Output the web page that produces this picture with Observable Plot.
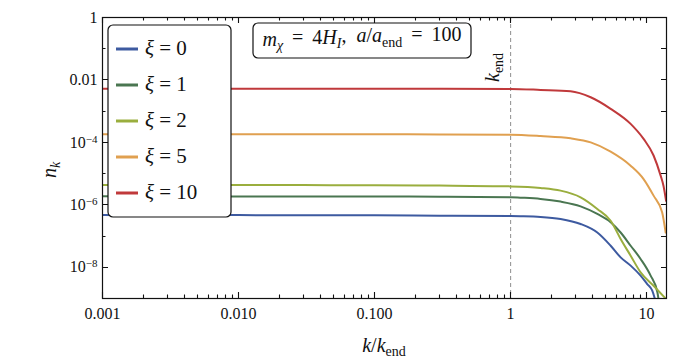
<!DOCTYPE html>
<html><head><meta charset="utf-8">
<script src="https://cdn.jsdelivr.net/npm/d3@7"></script>
<script src="https://cdn.jsdelivr.net/npm/@observablehq/plot@0.6"></script>
<style>
body{margin:0;background:#fff}
#chart svg text, #chart svg tspan { font-family: "Liberation Serif", serif !important; }
#chart svg path.inticks { stroke: #111 !important; stroke-width: 1.1px !important; fill: none; }
</style>
</head><body><div id="chart"></div>
<script>
// ---- data ----
const xiLabels = ["0", "1", "2", "5", "10"];
const colors = ["#3d5aa0", "#4a7651", "#9aae3e", "#e0a050", "#c0393b"];

const k_xi0 = [0.001, 0.003, 0.01, 0.03, 0.1, 0.3, 1, 1.18, 1.66, 2.33, 3.27, 4.34, 5.44, 6.44, 7.63, 9.03, 10.1, 11.0, 11.65];
const n_xi0 = [4.7e-7, 4.65e-7, 4.7e-7, 4.6e-7, 4.6e-7, 4.5e-7, 4.35e-7, 4.3e-7, 4.1e-7, 3.53e-7, 2.44e-7, 1.3e-7, 4.9e-8, 2.08e-8, 1.13e-8, 5.4e-9, 2.9e-9, 1.78e-9, 8e-10];

const k_xi1 = [0.001, 0.003, 0.01, 0.03, 0.1, 0.3, 1, 1.18, 1.66, 2.33, 3.27, 4.34, 5.44, 6.44, 7.63, 9.03, 10.7, 12.0, 12.3];
const n_xi1 = [1.87e-6, 1.86e-6, 1.86e-6, 1.85e-6, 1.84e-6, 1.82e-6, 1.76e-6, 1.7e-6, 1.55e-6, 1.27e-6, 8.95e-7, 5.1e-7, 2.76e-7, 1.3e-7, 4.9e-8, 1.85e-8, 5.4e-9, 1.58e-9, 8e-10];

const k_xi2 = [0.001, 0.003, 0.01, 0.03, 0.1, 0.3, 1, 1.66, 2.33, 3.27, 4.34, 5.44, 6.44, 7.63, 9.03, 11.25, 13.8];
const n_xi2 = [4.35e-6, 4.33e-6, 4.3e-6, 4.28e-6, 4.25e-6, 4.15e-6, 3.9e-6, 3.48e-6, 2.85e-6, 1.74e-6, 7.4e-7, 3.1e-7, 8.1e-8, 2.35e-8, 6.9e-9, 2.57e-9, 1.0e-9];

const k_xi5 = [0.001, 0.003, 0.01, 0.03, 0.1, 0.3, 1, 1.66, 2.76, 3.88, 5.44, 7.63, 9.5, 11.25, 13.0, 13.8];
const n_xi5 = [1.82e-4, 1.82e-4, 1.82e-4, 1.81e-4, 1.81e-4, 1.8e-4, 1.77e-4, 1.6e-4, 1.35e-4, 1.0e-4, 5.07e-5, 1.8e-5, 6.7e-6, 1.97e-6, 5.75e-7, 1.3e-7];

const k_xi10 = [0.001, 0.003, 0.01, 0.03, 0.1, 0.3, 1, 1.66, 2.76, 3.88, 5.44, 7.63, 9.5, 11.25, 12.68, 13.3, 13.9];
const n_xi10 = [5.2e-3, 5.2e-3, 5.2e-3, 5.2e-3, 5.2e-3, 5.18e-3, 5.15e-3, 4.8e-3, 4.35e-3, 2.79e-3, 1.19e-3, 3.92e-4, 1.29e-4, 3.8e-5, 8.6e-6, 4.1e-6, 1.35e-6];

const xTickValues = [0.001, 0.01, 0.1, 1, 10];
const xTickLabels = ["0.001", "0.010", "0.100", "1", "10"];
const yTickValues = [1, 0.01, 1e-4, 1e-6, 1e-8];
const yTickLabels = ["1", "0.01", "10^-4", "10^-6", "10^-8"];
const kEnd = 1;

// ---- build table ----
const ks = [k_xi0, k_xi1, k_xi2, k_xi5, k_xi10];
const ns = [n_xi0, n_xi1, n_xi2, n_xi5, n_xi10];
const rows = [];
xiLabels.forEach((xi, i) => ks[i].forEach((k, j) => rows.push({xi, k, n: ns[i][j]})));

const xMinor = [];
for (let e = -3; e <= 1; e++) for (let m = 2; m <= 9; m++) { const v = m * 10 ** e; if (v <= 14) xMinor.push(v); }
const yAll = d3.range(0, 10).map(e => 10 ** -e);
const yMinor = yAll.filter(v => !yTickValues.includes(v));

const FONT = "Liberation Serif";
const chart = Plot.plot({
  width: 683, height: 359,
  marginLeft: 102, marginRight: 17, marginTop: 17, marginBottom: 61,
  style: {background: "#fff", color: "#111"},
  x: {type: "log", domain: [0.001, 14]},
  y: {type: "log", domain: [1e-9, 1]},
  color: {domain: xiLabels, range: colors},
  marks: [
    Plot.ruleX([kEnd], {stroke: "#999", strokeWidth: 1.1, strokeDasharray: "4,3"}),
    Plot.line(rows, {x: "k", y: "n", z: "xi", stroke: "xi", strokeWidth: 2, clip: true, curve: "monotone-x"}),
    Plot.frame({stroke: "#111", strokeWidth: 1.2}),
    Plot.axisX({anchor: "bottom", ticks: xTickValues, tickSize: 0, tickPadding: 9, tickFormat: d => xTickLabels[xTickValues.indexOf(d)], label: null, fontSize: 16, fontFamily: FONT}),
    Plot.axisY({anchor: "left", ticks: yTickValues, tickSize: 0, tickPadding: 5, tickFormat: d => yTickLabels[yTickValues.indexOf(d)], label: null, fontSize: 16, fontFamily: FONT})
  ]
});
document.getElementById("chart").appendChild(chart);

const svg = d3.select(chart);
svg.attr("font-family", FONT);
const sx = chart.scale("x"), sy = chart.scale("y");
const X0 = Math.min(...sx.range), X1 = Math.max(...sx.range), YB = Math.max(...sy.range), YT = Math.min(...sy.range);

// inward ticks drawn from Plot's scales, as one path
const tp = d3.path();
function seg(x1, y1, x2, y2) { tp.moveTo(x1, y1); tp.lineTo(x2, y2); }
function xt(v, len) { const x = Math.round(sx.apply(v)) + 0.5; seg(x, YB, x, YB - len); seg(x, YT, x, YT + len); }
xTickValues.forEach(v => xt(v, 6));
xMinor.forEach(v => xt(v, 3.5));
function yt(v, lenL, lenR) { const y = Math.round(sy.apply(v)) + 0.5; seg(X0, y, X0 + lenL, y); seg(X1, y, X1 - lenR, y); }
yTickValues.forEach(v => yt(v, 6, 5));
yMinor.forEach(v => yt(v, 3.5, 5));
svg.append("path").attr("class", "inticks").attr("d", tp.toString()).attr("stroke", "#111").attr("stroke-width", 1.1).attr("fill", "none");

// superscripts on y tick labels
svg.selectAll('g[aria-label="y-axis tick label"] text').each(function() {
  const t = d3.select(this);
  const s = t.text();
  if (s.includes("^")) {
    const [b, e] = s.split("^");
    t.text("");
    t.append("tspan").text(b);
    t.append("tspan").attr("dy", "-0.45em").attr("font-size", "11px").text(e.replace("-", "\u2212"));
  }
});

function mathText(g, x, y, parts, size, anchor, extra) {
  const t = g.append("text").attr("x", x).attr("y", y).attr("font-family", FONT).attr("font-size", size)
    .attr("fill", "#111").attr("text-anchor", anchor || "start");
  if (extra) extra(t);
  let shifted = false;
  parts.forEach(p => {
    const ts = t.append("tspan").text(p.t);
    if (p.i) ts.attr("font-style", "italic");
    if (p.sub && !shifted) { ts.attr("dy", "0.3em").attr("font-size", size * 0.7); shifted = true; }
    else if (p.sub) { ts.attr("font-size", size * 0.7); }
    else if (shifted) { ts.attr("dy", "-0.3em"); shifted = false; }
  });
  return t;
}

const ann = svg.append("g");
mathText(ann, 384, 352, [{t: "k", i: 1}, {t: "/"}, {t: "k", i: 1}, {t: "end", sub: 1}], 20, "middle");
mathText(ann, 0, 0, [{t: "n", i: 1}, {t: "k", i: 1, sub: 1}], 20, "middle", t => t.attr("transform", "translate(56,170) rotate(-90)"));
mathText(ann, 0, 0, [{t: "k", i: 1}, {t: "end", sub: 1}], 20, "start", t => t.attr("transform", "translate(499,82) rotate(-90)"));

ann.append("rect").attr("x", 253).attr("y", 23).attr("width", 218).attr("height", 35).attr("rx", 5)
  .attr("fill", "#fff").attr("stroke", "#111").attr("stroke-width", 1.2);
mathText(ann, 362, 46, [
  {t: "m", i: 1}, {t: "\u03c7", i: 1, sub: 1}, {t: " \u2009=\u2009 4"}, {t: "H", i: 1}, {t: "I", i: 1, sub: 1},
  {t: ",  "}, {t: "a", i: 1}, {t: "/"}, {t: "a", i: 1}, {t: "end", sub: 1}, {t: " \u2009=\u2009 100"}
], 20, "middle");

ann.append("rect").attr("x", 108).attr("y", 25).attr("width", 123).attr("height", 192).attr("rx", 5)
  .attr("fill", "#fff").attr("stroke", "#111").attr("stroke-width", 1.2);
xiLabels.forEach((xi, i) => {
  const y = 49 + i * 36;
  ann.append("line").attr("x1", 116).attr("x2", 138).attr("y1", y).attr("y2", y).attr("stroke", colors[i]).attr("stroke-width", 3);
  mathText(ann, 145, y + 6, [{t: "\u03be", i: 1}, {t: " = " + xi}], 21, "start");
});
</script>
</body></html>
